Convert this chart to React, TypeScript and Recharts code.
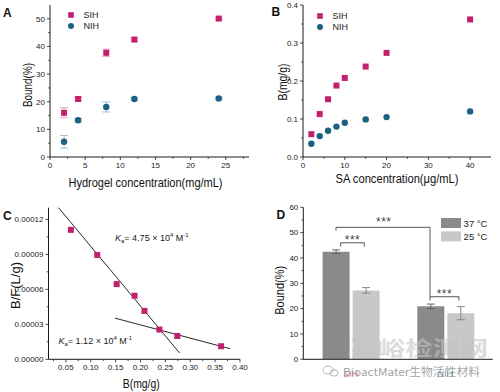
import React from "react";
import { ScatterChart, Scatter, ComposedChart, Bar, XAxis, YAxis, ErrorBar, ReferenceLine, ReferenceDot, Legend } from "recharts";

const PINK = "#c21f6e";
const BLUE = "#1b6180";
const AXIS = "#1a1a1a";
const TXT = "#222";
const FONT = "'Liberation Sans', Arial, Helvetica, sans-serif";

// A - bound(%) vs hydrogel concentration
const hydrogelConc = [2, 4, 8, 12, 24];
const sihBound = [16, 21, 37.7, 42.5, 50.1];
const sihBoundErr = [1.8, 0.6, 1.3, 0.6, 0.4];
const nihBound = [5.5, 13.3, 18.1, 21, 21.2];
const nihBoundErr = [2.3, 0.7, 1.8, 0.5, 0.5];
const aXMajor = [0, 5, 10, 15, 20, 25];
const aXMinor = [2.5, 7.5, 12.5, 17.5, 22.5, 27.5];
const aYMajor = [0, 10, 20, 30, 40, 50];
const aYMinor = [5, 15, 25, 35, 45];

// B - B(mg/g) vs SA concentration
const saConc = [2, 4, 6, 8, 10, 15, 20, 40];
const sihB = [0.06, 0.113, 0.152, 0.188, 0.208, 0.238, 0.274, 0.362];
const nihB = [0.035, 0.055, 0.069, 0.08, 0.09, 0.099, 0.105, 0.12];
const bXMajor = [0, 10, 20, 30, 40];
const bXMinor = [5, 15, 25, 35];
const bYMajor = [0, 0.1, 0.2, 0.3, 0.4];
const bYMinor = [0.05, 0.15, 0.25, 0.35];

// C - Scatchard plot
const scatB = [0.06, 0.113, 0.152, 0.188, 0.208, 0.238, 0.274, 0.362];
const scatBF = [0.000111, 0.0000895, 0.0000645, 0.0000545, 0.0000415, 0.0000255, 0.00002, 0.0000112];
const fitHigh = [{ x: 0.0352, y: 0.00013 }, { x: 0.2786, y: 0.0000054 }];
const fitLow = [{ x: 0.1486, y: 0.0000353 }, { x: 0.38, y: 0.0000091 }];
const cXMajor = [0.05, 0.1, 0.15, 0.2, 0.25, 0.3, 0.35, 0.4];
const cXMinor = [0.025, 0.075, 0.125, 0.175, 0.225, 0.275, 0.325, 0.375];
const cYMajor = [0, 0.00003, 0.00006, 0.00009, 0.00012];
const cYMinor = [0.000015, 0.000045, 0.000075, 0.000105];

// D - bound at two temperatures
const groups = ["SIH", "NIH"];
const groupPos = [0.5, 1.5];
const bound37 = [42.5, 20.9];
const bound25 = [27.2, 18.2];
const err37 = [0.7, 0.9];
const err25 = [1.1, 2.6];
const dYMajor = [0, 10, 20, 30, 40, 50, 60];
const dYMinor = [5, 15, 25, 35, 45, 55];
// significance brackets on the 0..2 group scale: [xLeft, xRight, yTop, yLeftEnd, yRightEnd]
const brackets = [
  [0.395, 0.644, 46.0, 44.5, 44.5],
  [0.345, 1.338, 52.1, 50.8, 24.7],
  [1.338, 1.644, 24.7, 23.2, 23.2],
];
const stars = [
  [0.52, 48.0],
  [0.85, 55.0],
  [1.49, 26.8],
];

const dataA1 = hydrogelConc.map((x, i) => ({ x, y: sihBound[i], e: sihBoundErr[i] }));
const dataA2 = hydrogelConc.map((x, i) => ({ x, y: nihBound[i], e: nihBoundErr[i] }));
const dataB1 = saConc.map((x, i) => ({ x, y: sihB[i] }));
const dataB2 = saConc.map((x, i) => ({ x, y: nihB[i] }));
const dataC = scatB.map((x, i) => ({ x, y: scatBF[i] }));
const dataD = groups.map((g, i) => ({ pos: groupPos[i], g, b37: bound37[i], b25: bound25[i], e37: err37[i], e25: err25[i] }));

const near = (list: number[], v: number) => list.some((m) => Math.abs(m - v) < 1e-12);

const xTick = (majors: number[], fmt: (v: number) => string) => (p: any) => {
  const v = p.payload.value;
  const major = near(majors, v);
  return (
    <g>
      <line x1={p.x} x2={p.x} y1={p.y} y2={p.y + (major ? 3 : 1.8)} stroke={AXIS} strokeWidth={0.8} />
      {major && (
        <text x={p.x} y={p.y + 11} textAnchor="middle" fontSize={8} fill={TXT} fontFamily={FONT}>
          {fmt(v)}
        </text>
      )}
    </g>
  );
};

const yTick = (majors: number[], fmt: (v: number) => string) => (p: any) => {
  const v = p.payload.value;
  const major = near(majors, v);
  return (
    <g>
      <line x1={p.x} x2={p.x - (major ? 3 : 1.8)} y1={p.y} y2={p.y} stroke={AXIS} strokeWidth={0.8} />
      {major && (
        <text x={p.x - 5} y={p.y + 2.8} textAnchor="end" fontSize={8} fill={TXT} fontFamily={FONT}>
          {fmt(v)}
        </text>
      )}
    </g>
  );
};

const xTitle = (text: string, len: number, dx: number, dy: number) => (p: any) => {
  const vb = p.viewBox || { x: 0, y: 0, width: 0 };
  return (
    <text x={vb.x + vb.width / 2 + dx} y={vb.y + dy} textAnchor="middle" fontSize={12} fill="#111"
      fontFamily={FONT} textLength={len} lengthAdjust="spacingAndGlyphs">
      {text}
    </text>
  );
};

const yTitle = (text: string, len: number, bx: number, dy: number) => (p: any) => {
  const vb = p.viewBox || { x: 0, y: 0, height: 0 };
  const cx = bx;
  const cy = vb.y + vb.height / 2 + dy;
  return (
    <text x={cx} y={cy} transform={`rotate(-90 ${cx} ${cy})`} textAnchor="middle" fontSize={12} fill="#111"
      fontFamily={FONT} textLength={len} lengthAdjust="spacingAndGlyphs">
      {text}
    </text>
  );
};

const square = (color: string, s = 6) => (p: any) => (
  <rect x={p.cx - s / 2} y={p.cy - s / 2} width={s} height={s} fill={color} />
);
const dot = (color: string, r = 3.2) => (p: any) => <circle cx={p.cx} cy={p.cy} r={r} fill={color} />;

const markerLegend = () => (
  <svg width={40} height={24}>
    <rect x={1.2} y={1.2} width={5.6} height={5.6} fill={PINK} />
    <text x={16.5} y={7.4} fontSize={9} fill={TXT} fontFamily={FONT}>SIH</text>
    <circle cx={4} cy={15} r={3} fill={BLUE} />
    <text x={16.5} y={18.2} fontSize={9} fill={TXT} fontFamily={FONT}>NIH</text>
  </svg>
);

const tempLegend = () => (
  <svg width={60} height={26}>
    <rect x={0} y={0} width={20} height={10} fill="#8a8a8a" />
    <text x={22.6} y={8.6} fontSize={9.5} fill={TXT} fontFamily={FONT}>37 °C</text>
    <rect x={0} y={13.4} width={20} height={10} fill="#c8c8c8" />
    <text x={22.6} y={22} fontSize={9.5} fill={TXT} fontFamily={FONT}>25 °C</text>
  </svg>
);

const KaText = ({ x, y, v }: { x: number; y: number; v: string }) => (
  <text x={x} y={y} fontSize={9} fill={TXT} fontFamily={FONT}>
    <tspan fontStyle="italic">K</tspan>
    <tspan fontSize={6} dy={2}>a</tspan>
    <tspan dy={-2}>{`= ${v} × 10`}</tspan>
    <tspan fontSize={6} dy={-3.5}>4</tspan>
    <tspan dy={3.5}> M</tspan>
    <tspan fontSize={6} dy={-3.5}>-1</tspan>
  </text>
);

const frameX = (domain: [number, number]) => (
  <XAxis xAxisId="top" orientation="top" type="number" domain={domain} allowDataOverflow height={0}
    tick={false} tickLine={false} axisLine={{ stroke: AXIS }} />
);
const frameY = (domain: [number, number]) => (
  <YAxis yAxisId="right" orientation="right" type="number" domain={domain} allowDataOverflow width={0}
    tick={false} tickLine={false} axisLine={{ stroke: AXIS }} />
);

const PanelA = () => (
  <ScatterChart width={250} height={195} margin={{ top: 5, right: 1, left: 0, bottom: 0 }}>
    <XAxis type="number" dataKey="x" domain={[0, 28.3]} allowDataOverflow ticks={[...aXMajor, ...aXMinor].sort((a, b) => a - b)}
      interval={0} tick={xTick(aXMajor, String)} tickLine={false} tickSize={0} tickMargin={0} height={38}
      axisLine={{ stroke: AXIS }} label={xTitle("Hydrogel concentration(mg/mL)", 154, -4, 30)} />
    <YAxis type="number" dataKey="y" domain={[0, 55]} allowDataOverflow ticks={[...aYMajor, ...aYMinor].sort((a, b) => a - b)}
      interval={0} tick={yTick(aYMajor, String)} tickLine={false} tickSize={0} tickMargin={0} width={50}
      axisLine={{ stroke: AXIS }} label={yTitle("Bound(%)", 44, 32, 4)} />
    {frameX([0, 28.3])}
    {frameY([0, 55])}
    <Legend layout="vertical" align="center" verticalAlign="middle" content={markerLegend}
      wrapperStyle={{ left: 66.7, top: 11, width: 40, height: 24 }} />
    <Scatter name="SIH" data={dataA1} shape={square(PINK)} isAnimationActive={false}>
      <ErrorBar dataKey="e" direction="y" width={4} stroke="#e9a3c4" strokeWidth={1} />
    </Scatter>
    <Scatter name="NIH" data={dataA2} shape={dot(BLUE)} isAnimationActive={false}>
      <ErrorBar dataKey="e" direction="y" width={4} stroke="#9cc3d8" strokeWidth={1} />
    </Scatter>
  </ScatterChart>
);

const PanelB = () => (
  <ScatterChart width={250} height={195} margin={{ top: 5, right: 9, left: 0, bottom: 0 }}>
    <XAxis type="number" dataKey="x" domain={[0, 45]} allowDataOverflow ticks={[...bXMajor, ...bXMinor].sort((a, b) => a - b)}
      interval={0} tick={xTick(bXMajor, String)} tickLine={false} tickSize={0} tickMargin={0} height={38}
      axisLine={{ stroke: AXIS }} label={xTitle("SA concentration(μg/mL)", 123, 0, 26)} />
    <YAxis type="number" dataKey="y" domain={[0, 0.4]} allowDataOverflow ticks={[...bYMajor, ...bYMinor].sort((a, b) => a - b)}
      interval={0} tick={yTick(bYMajor, (v) => v.toFixed(1))} tickLine={false} tickSize={0} tickMargin={0} width={53}
      axisLine={{ stroke: AXIS }} label={yTitle("B(mg/g)", 37, 37, 1)} />
    {frameX([0, 45])}
    {frameY([0, 0.4])}
    <Legend layout="vertical" align="center" verticalAlign="middle" content={markerLegend}
      wrapperStyle={{ left: 66, top: 12, width: 40, height: 24 }} />
    <Scatter name="SIH" data={dataB1} shape={square(PINK)} isAnimationActive={false} />
    <Scatter name="NIH" data={dataB2} shape={dot(BLUE)} isAnimationActive={false} />
  </ScatterChart>
);

const PanelC = () => (
  <ScatterChart width={250} height={197} margin={{ top: 12.7, right: 10, left: 0, bottom: 0 }}>
    <XAxis type="number" dataKey="x" domain={[0.015, 0.4]} allowDataOverflow ticks={[...cXMajor, ...cXMinor].sort((a, b) => a - b)}
      interval={0} tick={xTick(cXMajor, (v) => v.toFixed(2))} tickLine={false} tickSize={0} tickMargin={0} height={32.7}
      axisLine={{ stroke: AXIS }} label={xTitle("B(mg/g)", 37, -3, 29)} />
    <YAxis type="number" dataKey="y" domain={[0, 0.00013]} allowDataOverflow ticks={[...cYMajor, ...cYMinor].sort((a, b) => a - b)}
      interval={0} tick={yTick(cYMajor, (v) => v.toFixed(5))} tickLine={false} tickSize={0} tickMargin={0} width={48.5}
      axisLine={{ stroke: AXIS }} label={yTitle("B/F(L/g)", 47, 19.5, 2)} />
    {frameX([0.015, 0.4])}
    {frameY([0, 0.00013])}
    <ReferenceLine segment={fitHigh} stroke="#111" strokeWidth={0.9} />
    <ReferenceLine segment={fitLow} stroke="#111" strokeWidth={0.9} />
    <Scatter data={dataC} shape={square(PINK)} isAnimationActive={false} />
  </ScatterChart>
);

const groupTick = (p: any) => {
  const name = groups[groupPos.indexOf(p.payload.value)] || "";
  return (
    <text x={p.x} y={p.y + 17.5} textAnchor="middle" fontSize={9} fontFamily={FONT}
      fill={name === "SIH" ? PINK : BLUE} fillOpacity={0.65}>
      {name}
    </text>
  );
};

const PanelD = () => (
  <ComposedChart width={250} height={197} data={dataD} margin={{ top: 12.3, right: 7.3, left: 0, bottom: 0 }}
    barCategoryGap="20.4%" barGap={3}>
    <XAxis dataKey="pos" type="number" domain={[0, 2]} allowDataOverflow ticks={groupPos} interval={0}
      tick={groupTick} tickLine={false} tickSize={0} tickMargin={0} height={32.7} axisLine={{ stroke: AXIS }} />
    {frameX([0, 2])}
    <YAxis type="number" domain={[0, 60]} allowDataOverflow ticks={[...dYMajor, ...dYMinor].sort((a, b) => a - b)}
      interval={0} tick={yTick(dYMajor, String)} tickLine={false} tickSize={0} tickMargin={0} width={53.3}
      axisLine={{ stroke: AXIS }} label={yTitle("Bound(%)", 49, 34.5, 7)} />
    {frameY([0, 60])}
    <Legend layout="vertical" align="center" verticalAlign="middle" content={tempLegend}
      wrapperStyle={{ left: 190.7, top: 23.3, width: 60, height: 26 }} />
    <Bar dataKey="b37" fill="#8a8a8a" isAnimationActive={false}>
      <ErrorBar dataKey="e37" width={4} stroke="#666" strokeWidth={1} />
    </Bar>
    <Bar dataKey="b25" fill="#c8c8c8" isAnimationActive={false}>
      <ErrorBar dataKey="e25" width={4} stroke="#888" strokeWidth={1} />
    </Bar>
    {brackets.map((b, i) => (
      <React.Fragment key={"br" + i}>
        <ReferenceLine segment={[{ x: b[0], y: b[3] }, { x: b[0], y: b[2] }]} stroke="#555" strokeWidth={1} />
        <ReferenceLine segment={[{ x: b[0], y: b[2] }, { x: b[1], y: b[2] }]} stroke="#555" strokeWidth={1} />
        <ReferenceLine segment={[{ x: b[1], y: b[2] }, { x: b[1], y: b[4] }]} stroke="#555" strokeWidth={1} />
      </React.Fragment>
    ))}
    {stars.map((s, i) => (
      <ReferenceDot key={"st" + i} x={s[0]} y={s[1]}
        shape={(p: any) => (
          <text x={p.cx} y={p.cy + 6.5} textAnchor="middle" fontSize={12} fill="#444" fontFamily={FONT} letterSpacing={0.5}>
            ***
          </text>
        )} />
    ))}
  </ComposedChart>
);

export default function App() {
  return (
    <div style={{ position: "absolute", left: 0, top: 0, width: 500, height: 392, background: "#fff", fontFamily: FONT, overflow: "hidden" }}>
      <div style={{ position: "absolute", left: 0, top: 0 }}><PanelA /></div>
      <div style={{ position: "absolute", left: 250, top: 0 }}><PanelB /></div>
      <div style={{ position: "absolute", left: 0, top: 195 }}><PanelC /></div>
      <div style={{ position: "absolute", left: 250, top: 195 }}><PanelD /></div>
      <svg width={500} height={392} style={{ position: "absolute", left: 0, top: 0, pointerEvents: "none" }}>
        <g fontFamily={FONT} fontWeight="bold" fontSize={12} fill="#111">
          <text x={3} y={17}>A</text>
          <text x={271.5} y={16}>B</text>
          <text x={3} y={220}>C</text>
          <text x={276.5} y={218.5}>D</text>
        </g>
        <KaText x={115} y={240.5} v="4.75" />
        <KaText x={58.5} y={343.5} v="1.12" />
        <text x={350} y={356} fontSize={20} fontWeight="bold" fill="#c4c4c4" fillOpacity={0.6}
          fontFamily="'Noto Sans CJK SC', sans-serif" textLength={138} lengthAdjust="spacingAndGlyphs">嘉峪检测网</text>
        <g fill="none" stroke="#9a9a9a" strokeWidth={0.9} opacity={0.8}>
          <ellipse cx={328} cy={370} rx={5} ry={4} />
          <ellipse cx={334} cy={373} rx={4} ry={3.2} />
        </g>
        <text x={343} y={376} fontSize={11} fill="#8a8a8a" fillOpacity={0.8}
          fontFamily="'Noto Sans CJK SC', sans-serif" textLength={137} lengthAdjust="spacingAndGlyphs">BioactMater生物活性材料</text>
      </svg>
    </div>
  );
}
